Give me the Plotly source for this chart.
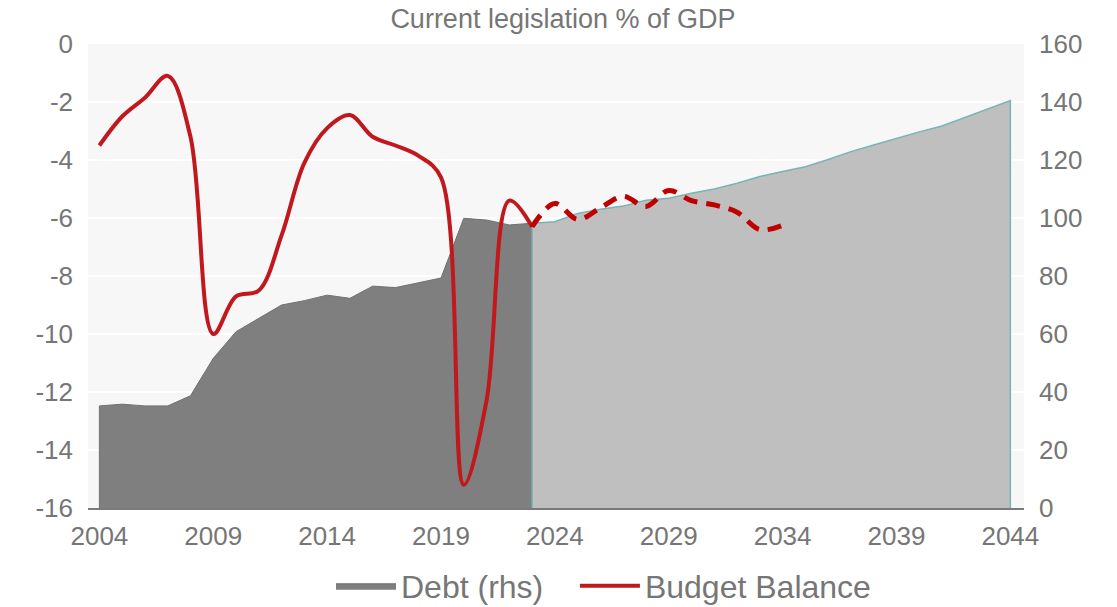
import plotly.graph_objects as go

# Federal debt held by the public, % of GDP (right-hand scale)
debt_years_hist = list(range(2004, 2024))
debt_hist = [35.2, 35.8, 35.2, 35.2, 38.7, 51.6, 60.8, 65.4, 70.0, 71.5,
             73.4, 72.3, 76.5, 76.0, 77.7, 79.3, 99.9, 99.3, 97.6, 98.2]

debt_years_proj = list(range(2023, 2045))
debt_proj = [98.2, 98.7, 101.6, 103.0, 104.1, 106.1, 106.8, 108.5, 110.0, 112.0,
             114.3, 116.0, 117.7, 120.2, 122.9, 125.2, 127.5, 129.7, 131.7,
             134.6, 137.5, 140.5]

# Budget balance, % of GDP (left-hand scale)
bal_years_hist = list(range(2004, 2024))
bal_hist = [-3.5, -2.5, -1.85, -1.1, -3.2, -10.0, -8.7, -8.5, -6.6, -4.1,
            -2.9, -2.45, -3.2, -3.5, -3.85, -4.6, -15.2, -12.3, -5.4, -6.3]

bal_years_proj = list(range(2023, 2035))
bal_proj = [-6.3, -5.5, -6.05, -5.65, -5.25, -5.6, -5.05, -5.4, -5.55, -5.8,
            -6.4, -6.25]

x_ticks = list(range(2004, 2045, 5))
left_ticks = list(range(-16, 1, 2))
right_ticks = list(range(0, 161, 20))

TEXT = "#767676"
FONT = "Liberation Sans, Arial, sans-serif"
NBSP = "\u00a0"


def closed(xs, ys):
    """Close an area polygon down to the zero baseline at both ends."""
    return [xs[0]] + xs + [xs[-1]], [0] + ys + [0]


fig = go.Figure()

hx, hy = closed(debt_years_hist, debt_hist)
fig.add_trace(go.Scatter(
    x=hx, y=hy, yaxis="y", mode="lines", fill="toself",
    fillcolor="#7f7f7f", line=dict(color="#707070", width=1),
    name="Debt (rhs)" + NBSP * 3, hoverinfo="skip",
))

px_, py_ = closed(debt_years_proj, debt_proj)
fig.add_trace(go.Scatter(
    x=px_, y=py_, yaxis="y", mode="lines", fill="toself",
    fillcolor="#bfbfbf", line=dict(color="#78b4b4", width=1.5),
    name="Debt projection", showlegend=False, hoverinfo="skip",
))

fig.add_trace(go.Scatter(
    x=bal_years_hist, y=bal_hist, yaxis="y2", mode="lines",
    line=dict(color="#c0181c", width=4, shape="spline", smoothing=1.0),
    name="Budget Balance",
))

fig.add_trace(go.Scatter(
    x=bal_years_proj, y=bal_proj, yaxis="y2", mode="lines",
    line=dict(color="#c00000", width=5, shape="spline", smoothing=1.0,
              dash="14px,9px"),
    name="Budget Balance projection", showlegend=False,
))

fig.update_layout(
    width=1117, height=607,
    margin=dict(l=88, r=93, t=44, b=99, autoexpand=False),
    paper_bgcolor="white",
    plot_bgcolor="#f7f7f7",
    font=dict(family=FONT, color=TEXT, size=26),
    title=dict(text="Current legislation % of GDP", x=0.504, xanchor="center",
               y=1 - 19 / 607, yanchor="middle",
               font=dict(size=27, color=TEXT, family=FONT)),
    xaxis=dict(
        range=[2003.5, 2044.6], tickmode="array", tickvals=x_ticks,
        ticktext=[str(t) for t in x_ticks], showgrid=False, zeroline=False,
        showline=True, linecolor="#7a7a7a", linewidth=2, ticks="",
        tickfont=dict(size=26, color=TEXT), ticklabelstandoff=4,
        automargin=False,
    ),
    yaxis=dict(
        side="right", range=[0, 160], tickvals=right_ticks,
        showgrid=True, gridcolor="white", gridwidth=2, zeroline=False,
        ticks="", tickfont=dict(size=26, color=TEXT), ticklabelstandoff=14,
        automargin=False,
    ),
    yaxis2=dict(
        side="left", overlaying="y", range=[-16, 0], tickvals=left_ticks,
        ticktext=[str(t) for t in left_ticks],
        showgrid=False, zeroline=False, ticks="",
        tickfont=dict(size=26, color=TEXT), ticklabelstandoff=14,
        automargin=False,
    ),
    legend=dict(
        orientation="h", x=331 / 1117, xanchor="left", xref="container",
        y=1 - 586 / 607, yanchor="middle", yref="container",
        font=dict(size=32, color=TEXT),
        bgcolor="rgba(0,0,0,0)", itemwidth=60,
    ),
    showlegend=True,
)

fig.write_html("out.html")
